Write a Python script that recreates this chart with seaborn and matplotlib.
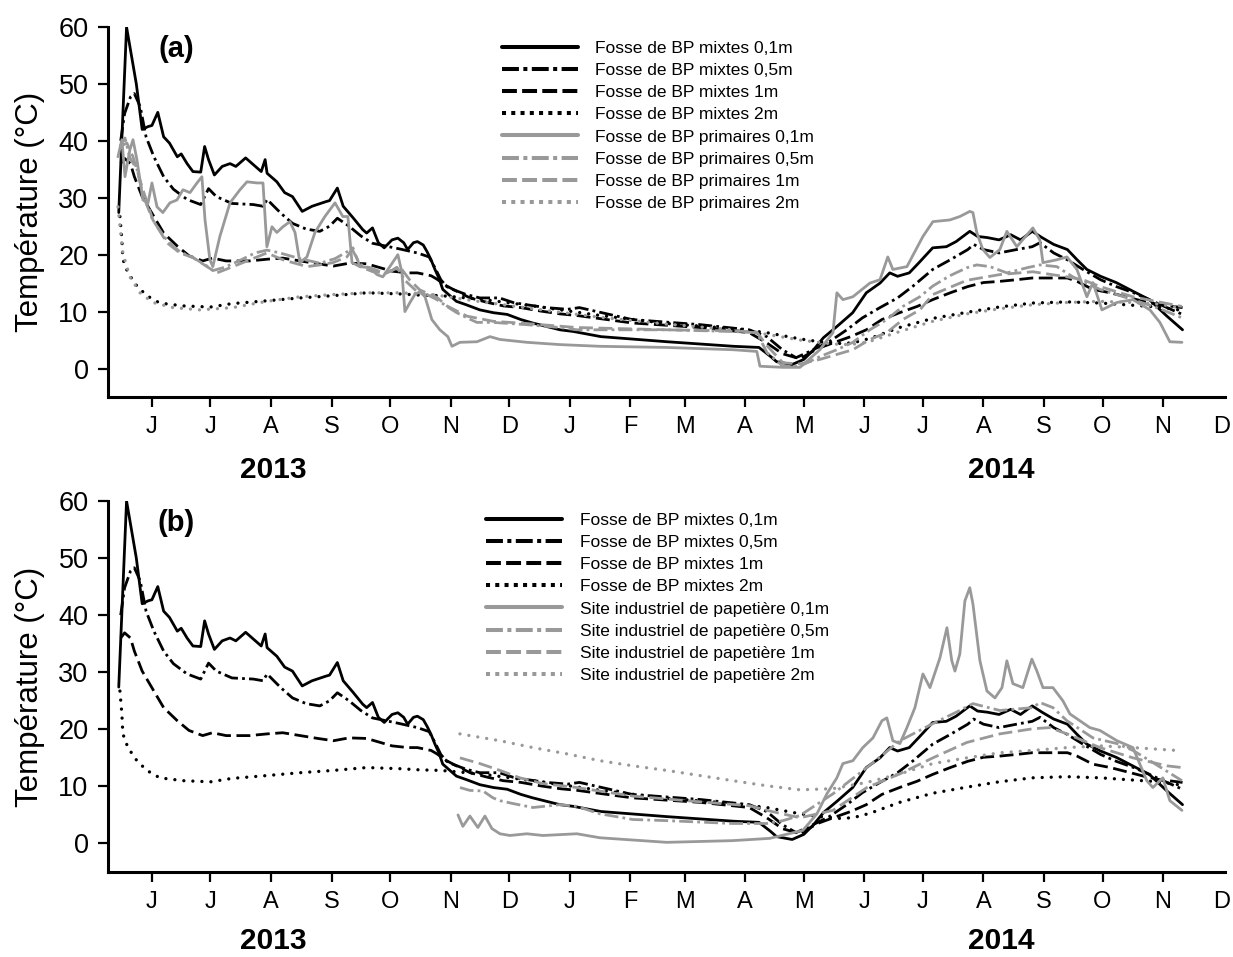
import matplotlib

matplotlib.use("Agg")
import matplotlib.dates as mdates
import matplotlib.pyplot as plt
import pandas as pd
import seaborn as sns
from matplotlib.lines import Line2D

# days counted from 2013-06-01, temperatures in °C
jours_mixtes_01 = [-17, -13, -8, -5, -2, 0, 3, 6, 9, 13, 15, 18, 21, 25, 27, 29, 32, 36, 40, 43,
                   48, 52, 56, 58, 59, 64, 68, 72, 77, 82, 89, 91, 95, 98, 103, 108, 110, 113, 116, 119,
                   123, 126, 129, 131, 134, 136, 139, 141, 143, 145, 147, 149, 153, 156, 161, 168, 175, 182, 189, 195,
                   202, 209, 216, 230, 264, 298, 311, 317, 320, 328, 334, 339, 344, 351, 359, 366, 373, 378, 382, 388,
                   393, 400, 407, 412, 419, 423, 428, 434, 440, 445, 451, 456, 462, 469, 474, 479, 486, 494, 503, 511,
                   520, 528]
temp_mixtes_01 = [27.4, 60, 50, 42, 42.5, 42.7, 45, 40.7, 39.6, 37.2, 37.7, 36, 34.6, 34.5, 39, 36.7, 34, 35.5, 36, 35.5,
                  37, 35.8, 34.6, 36.7, 34.3, 32.8, 30.9, 30.2, 27.6, 28.5, 29.3, 29.5, 31.7, 28.5, 26.5, 24.4, 23.8, 24.7, 22.1, 21.2,
                  22.6, 22.9, 22.1, 20.9, 22.1, 22.3, 21.7, 20.5, 19.1, 17.4, 15.9, 13.9, 12.7, 11.8, 11.2, 10.3, 9.8, 9.5, 8.6, 8.0,
                  7.4, 6.8, 6.5, 5.6, 4.7, 3.9, 3.7, 2.1, 1.2, 0.7, 1.6, 3.3, 5.4, 7.4, 9.8, 13.3, 15, 16.8, 16.2, 16.8,
                  18.6, 21.2, 21.4, 22.3, 24.1, 23.2, 23.0, 22.6, 23.5, 22.6, 24.1, 23.0, 21.8, 20.9, 19.1, 17.4, 16.2, 15.1, 13.5, 12.1,
                  9.2, 6.8]

jours_mixtes_05 = [-16, -14, -11, -9, -6, -3, 1, 6, 11, 18, 25, 29, 33, 41, 52, 57, 59, 66, 72, 79,
                   86, 91, 95, 101, 107, 113, 120, 127, 136, 142, 145, 148, 151, 154, 161, 168, 178, 185, 192, 202,
                   213, 219, 246, 281, 306, 315, 323, 330, 337, 347, 356, 364, 373, 382, 390, 400, 409, 418, 421, 426,
                   434, 443, 451, 455, 462, 469, 477, 486, 494, 503, 511, 520, 528]
temp_mixtes_05 = [40, 44.8, 47.7, 48.3, 46, 40.7, 37.2, 33.7, 31.5, 29.7, 28.8, 31.6, 30.2, 29, 28.8, 28.5, 29.7, 27.3, 25.5, 24.5,
                  24.1, 25, 26.4, 25, 23.3, 22, 21.5, 21, 20.3, 19.6, 17.7, 15.6, 14.4, 13.9, 13, 12.4, 12.4, 11.6, 11.2, 10.7,
                  10.4, 10.7, 8.6, 7.7, 6.8, 5.6, 3.3, 1.9, 3.0, 4.7, 6.8, 8.9, 10.7, 12.4, 14.5, 17.4, 19.1, 20.9, 21.8, 20.9,
                  20.3, 20.9, 21.4, 22.1, 20.3, 19.1, 17.4, 15.6, 14.4, 13.3, 12.1, 10.7, 9.5]

jours_mixtes_1 = [-16, -14, -11, -9, -5, 1, 6, 13, 19, 26, 31, 38, 50, 59, 67, 76, 85, 93, 101, 110,
                  117, 123, 131, 136, 143, 146, 151, 156, 163, 172, 180, 189, 199, 209, 218, 246, 281, 306, 315, 323,
                  332, 341, 349, 358, 366, 374, 383, 392, 400, 409, 418, 426, 434, 443, 451, 460, 469, 474, 482, 491,
                  499, 508, 516, 528]
temp_mixtes_1 = [36, 36.9, 36, 33.7, 30.2, 26.7, 23.8, 21.5, 19.8, 18.9, 19.4, 18.9, 18.9, 19.2, 19.4, 18.9, 18.4, 18, 18.5, 18.4,
                 17.7, 17.1, 16.8, 16.8, 16.3, 15.7, 14.5, 13.6, 12.4, 11.6, 11, 10.7, 10.1, 9.6, 9.3, 8, 7.2, 6.3, 4.5, 2.6,
                 1.7, 3.5, 4.5, 5.6, 6.8, 8.6, 9.8, 10.9, 12.1, 13.3, 14.4, 15.1, 15.3, 15.6, 15.9, 15.9, 15.9, 15.3, 13.9, 13.3,
                 12.6, 11.8, 11.2, 10.7]

jours_mixtes_2 = [-16.4, -15.4, -14.9, -12.3, -7.7, -2.6, 4, 16, 30, 41, 59, 76, 93, 110, 127, 137, 148, 168, 195, 230,
                  264, 298, 315, 332, 342, 352, 359, 368, 383, 400, 418, 434, 451, 469, 486, 503, 516, 528]
temp_mixtes_2 = [26.7, 22.7, 19.2, 16.8, 14.5, 12.8, 11.5, 11, 10.8, 11.4, 11.9, 12.4, 12.8, 13.3, 13.1, 12.9, 12.8, 12.2, 11, 9.3,
                 7.9, 7, 6.3, 5.2, 4.7, 4.4, 4.5, 5.3, 7.2, 8.8, 9.9, 10.8, 11.5, 11.7, 11.5, 11.1, 10.8, 10.2]

jours_prim_01 = [-17.4, -15.4, -13.8, -11.3, -9.7, -7.7, -4.6, -2, 0, 2.6, 5.6, 9.2, 12.8, 15.9, 19.5, 23.1, 25.6, 27.2, 29.7, 31.2,
                 34.8, 40, 45.1, 48.7, 53.8, 56.9, 58.9, 61.5, 64, 67.1, 70.7, 73.3, 75.8, 79.4, 83.5, 88.6, 93.8, 97.8, 100.4, 102.5,
                 106.6, 111.7, 115.3, 118.3, 121.9, 126, 128.1, 129.6, 132.2, 134.7, 137.3, 139.9, 141.4, 143.4, 147.5, 151.6, 153.7, 157.8, 166.5, 173.2,
                 178.3, 192.1, 209, 229.5, 263.8, 297.6, 309.9, 311.5, 323.3, 332, 342.2, 348.9, 350.9, 354, 359.1, 367.8, 373, 377, 379.6, 386.8,
                 395, 400.1, 408.8, 413.9, 419, 420.6, 422.6, 425.7, 429.3, 434.4, 438, 443.1, 451.3, 454.9, 456.5, 463.6, 468.8, 473.9, 479, 482.1,
                 486.7, 494.4, 502.6, 511.3, 516.4, 521.5, 527.7]
temp_prim_01 = [37.2, 40.2, 33.7, 38.4, 40.2, 36.7, 29.6, 29.1, 32.6, 28.4, 27.4, 29.1, 29.6, 31.4, 30.9, 32.6, 33.7, 26.1, 19.1, 17.9,
                23.2, 29.1, 31.4, 32.8, 32.6, 32.6, 21.4, 24.9, 23.9, 24.9, 25.8, 23.9, 18.6, 19.6, 23.9, 26.7, 29.1, 26.7, 26.7, 18.6,
                17.9, 17.7, 16.5, 16.1, 17.9, 20, 16.8, 10, 11.6, 13, 13.5, 12.6, 10.9, 8.6, 6.8, 5.6, 3.9, 4.6, 4.7, 5.6,
                5.1, 4.6, 4.2, 3.9, 3.7, 3.3, 3.0, 0.4, 0.2, 0.2, 3.3, 6.3, 13.3, 12.1, 12.6, 15, 15.6, 19.6, 17.4, 17.9,
                23.2, 25.8, 26.1, 26.7, 27.6, 27.4, 23.9, 20.9, 19.5, 20.9, 24.1, 21.4, 24.7, 22.6, 18.6, 19.1, 19.6, 17.4, 12.6, 15.1,
                10.3, 11.6, 12.1, 10.3, 8.1, 4.7, 4.6]

jours_prim_05 = [-16.4, -13.8, -11.3, -7.7, -4.6, 0.5, 7.7, 14.3, 21, 28.2, 31.2, 37.4, 45.1, 52.8, 58.9, 65.6, 75.8, 86.1, 93.8, 99.9,
                 102.5, 106.6, 113.2, 120.4, 125.5, 129.6, 135.8, 140.9, 146, 151.1, 156.2, 161.4, 166.5, 174.7, 192.1, 209, 217.7, 229.5, 263.8, 297.6,
                 309.9, 315.1, 323.3, 332, 342.2, 350.9, 359.1, 367.8, 376.5, 384.7, 393.4, 400.1, 408.8, 417.5, 422.6, 429.3, 438, 448.3, 454.9, 463.6,
                 471.8, 485.7, 502.6, 516.4, 527.7]
temp_prim_05 = [39, 40.5, 37, 35, 30.5, 26, 22.5, 20.5, 19.5, 18, 17.2, 17.8, 19, 20.3, 20.8, 20.3, 19.3, 18.5, 19.3, 20.5,
                21, 18.3, 17.5, 16.6, 17.8, 15.5, 13.5, 13, 12.1, 10.9, 9.8, 8.9, 8.1, 8.1, 7.7, 7.2, 6.8, 6.8, 6.8, 6.5,
                6.3, 2.8, 0.4, 0.4, 2.1, 3.3, 4.6, 6.8, 8.6, 10.9, 12.6, 14.5, 16.3, 17.7, 18.2, 17.9, 16.8, 17.7, 18.2, 17.9,
                16.1, 13.9, 12.1, 10.5, 8.9]

jours_prim_1 = [-16.4, -12.8, -9.7, -4.6, 0.5, 7.7, 14.3, 21, 28.2, 33.3, 41.5, 50.2, 58.9, 67.1, 72.2, 79.4, 86.1, 92.7, 99.9, 103,
                106.6, 113.2, 120.4, 127, 132.2, 137.3, 146, 151.1, 161.4, 174.7, 192.1, 217.7, 263.8, 297.6, 309.9, 315.1, 323.3, 332, 342.2, 359.1,
                367.8, 376.5, 384.7, 393.4, 400.1, 417.5, 434.4, 451.3, 468.8, 477, 485.7, 502.6, 527.7]
temp_prim_1 = [39, 39.6, 37.2, 31.4, 26.1, 22.1, 20.3, 19.5, 17.9, 16.8, 17.9, 19.1, 20.3, 19.1, 18.6, 17.9, 18.2, 18.6, 19.6, 21.2,
               17.9, 17, 16.8, 17.9, 15.5, 13.8, 12.5, 11, 9.2, 8.3, 7.9, 7.2, 6.8, 6.6, 6.4, 4, 1.0, 0.8, 1.6, 3.3,
               5.1, 6.3, 8.6, 10.3, 13, 15.5, 16.5, 17, 16.1, 15.6, 14.4, 12.6, 10.9]

jours_prim_2 = [-17.4, -14.9, -11.3, -6.1, 0.5, 10.8, 24.6, 41.5, 58.9, 75.8, 92.7, 110.1, 127, 144, 162.9, 195.2, 229.5, 263.8, 297.6, 315.1,
                332, 348.9, 357.6, 366.3, 383.2, 400.1, 417.5, 434.4, 451.3, 468.8, 485.7, 502.6, 516.4, 527.7]
temp_prim_2 = [28.4, 20.3, 16.1, 13.3, 11.6, 10.7, 10.3, 10.7, 11.8, 12.6, 13, 13.3, 13.3, 13.0, 12, 10.5, 9, 7.8, 6.8, 6,
               5, 4.3, 4.2, 4.6, 6.5, 8.3, 9.6, 10.5, 11.2, 11.6, 11.8, 11.6, 11.3, 10.6]

jours_pap_01 = [156.8, 159.3, 162.9, 167, 170.6, 174.2, 178.3, 183.4, 192.1, 200.3, 217.7, 229.5, 263.8, 297.6, 316.6, 333.5, 340.7, 345.8, 350.9, 354,
                359.1, 364.2, 369.4, 374, 376.5, 379.6, 383.2, 386.8, 390.9, 395, 398.6, 403.7, 407.3, 409.8, 411.4, 413.9, 416.5, 419, 420.6, 424.2,
                427.8, 431.9, 435.5, 438, 441.1, 446.2, 450.8, 453.4, 456.5, 461.6, 466.7, 470.3, 475.4, 480.5, 485.7, 494.4, 502.6, 509.7, 512.8, 517.9,
                521.5, 527.7]
temp_pap_01 = [5, 3, 4.8, 2.8, 4.8, 2.6, 1.7, 1.4, 1.7, 1.4, 1.7, 1.0, 0.2, 0.5, 0.9, 2.3, 5.2, 8.7, 11.5, 14,
               14.5, 16.8, 18.5, 21.5, 22, 18, 17.5, 20.3, 23.8, 29.7, 27.3, 32.5, 37.8, 32, 30.2, 33.2, 42.5, 44.8, 42, 32,
               26.7, 25.5, 27.3, 32, 28, 27.3, 32.3, 30.2, 27.3, 27.3, 25, 22.7, 21.5, 20.3, 19.8, 18, 16.8, 11, 9.8, 11.5,
               7.5, 5.8]

jours_pap_05 = [157.8, 162.9, 169.6, 174.7, 178.3, 184.9, 195.2, 209, 217.7, 229.5, 246.4, 263.8, 297.6, 315.1, 323.3, 332, 348.9, 366.3, 383.2, 400.1,
                413.9, 420.6, 434.4, 451.3, 454.9, 461.6, 468.8, 482.1, 494.4, 502.6, 511.3, 527.7]
temp_pap_05 = [9.8, 9.3, 9.2, 8, 7.5, 7, 6.3, 6.8, 6.5, 5.2, 4.2, 4, 3.5, 3.5, 4, 4.9, 8.7, 13.3, 18, 21,
               23.3, 24.5, 23.3, 23.8, 24.7, 23.8, 21.5, 18.5, 17.5, 16.3, 14.5, 11]

jours_pap_1 = [157.8, 168, 178.3, 188.5, 200.3, 217.7, 246.4, 280.7, 306.4, 315.1, 332, 348.9, 366.3, 383.2, 400.1, 417.5, 434.4, 451.3, 460, 468.8,
               485.7, 502.6, 520, 527.7]
temp_pap_1 = [15, 14, 12.8, 11.5, 10.5, 9.8, 8.3, 7.3, 6.6, 5.8, 4.5, 5.8, 9.8, 12.2, 15, 17.7, 19.2, 20.1, 20.3, 19.2,
              16.8, 15, 13.6, 13.3]

jours_pap_2 = [157.8, 178.3, 195.2, 212.6, 229.5, 246.4, 263.8, 280.7, 297.6, 315.1, 332, 348.9, 366.3, 383.2, 400.1, 417.5, 434.4, 451.3, 468.8, 485.7,
               502.6, 525.1]
temp_pap_2 = [19.2, 18, 16.8, 15.7, 14.5, 13.6, 12.8, 11.9, 11, 10.1, 9.4, 9.6, 10.7, 12.2, 14, 15, 15.9, 16.3, 16.8, 17.1,
              16.8, 16.3]

mois_labels = ["J", "J", "A", "S", "O", "N", "D", "J", "F", "M", "A", "M", "J", "J", "A", "S", "O", "N", "D"]
annees = ["2013", "2014"]
profondeurs = ["0,1m", "0,5m", "1m", "2m"]

NOIR = "#000000"
GRIS = "#999999"
# line pattern per depth: (plot dashes, legend dashes)
MOTIFS = {
    "0,1m": ("solid", "solid"),
    "0,5m": ((0, (5, 1.5, 1, 1.5)), (0, (4.2, 1.1, 1, 1.1))),
    "1m": ((0, (5, 2)), (0, (3.7, 1.3))),
    "2m": ((0, (0.01, 2.7)), (0, (1, 1.3))),
}

depart = pd.Timestamp("2013-06-01")

sns.set_style("ticks")
plt.rcParams["font.family"] = ["Liberation Sans", "DejaVu Sans"]
plt.rcParams.update({
    "text.color": "black", "axes.labelcolor": "black", "axes.edgecolor": "black",
    "xtick.color": "black", "ytick.color": "black",
})

fig = plt.figure(figsize=(12.33, 9.57), dpi=100)
ax_a = fig.add_axes([0.0876, 0.5852, 0.9059, 0.3866])
ax_b = fig.add_axes([0.0876, 0.0888, 0.9059, 0.3877])

mixtes = [
    (jours_mixtes_01, temp_mixtes_01),
    (jours_mixtes_05, temp_mixtes_05),
    (jours_mixtes_1, temp_mixtes_1),
    (jours_mixtes_2, temp_mixtes_2),
]
primaires = [
    (jours_prim_01, temp_prim_01),
    (jours_prim_05, temp_prim_05),
    (jours_prim_1, temp_prim_1),
    (jours_prim_2, temp_prim_2),
]
papetiere = [
    (jours_pap_01, temp_pap_01),
    (jours_pap_05, temp_pap_05),
    (jours_pap_1, temp_pap_1),
    (jours_pap_2, temp_pap_2),
]

panneaux = [
    (ax_a, "(a)", primaires, "Fosse de BP primaires", (501.7, 41), 52.5),
    (ax_b, "(b)", papetiere, "Site industriel de papetière", (486, 513), 49.7),
]


def trace(ax, jours, temp, couleur, prof):
    df = pd.DataFrame({"date": depart + pd.to_timedelta(jours, unit="D"), "temp": temp})
    pointille = prof == "2m"
    sns.lineplot(
        data=df, x="date", y="temp", ax=ax, color=couleur,
        linestyle=MOTIFS[prof][0], linewidth=2.4 if pointille else 2.0,
        dash_capstyle="round" if pointille else "butt",
        sort=False, estimator=None,
    )


mois_dates = pd.date_range("2013-06-01", "2014-12-01", freq="MS")

for ax, lettre, gris_series, nom_gris, coin, decal in panneaux:
    handles = []
    labels = []
    for (jours, temp), prof in zip(mixtes, profondeurs):
        trace(ax, jours, temp, NOIR, prof)
        handles.append(Line2D([], [], color=NOIR, lw=2.9, linestyle=MOTIFS[prof][1]))
        labels.append(f"Fosse de BP mixtes {prof}")
    for (jours, temp), prof in zip(gris_series, profondeurs):
        trace(ax, jours, temp, GRIS, prof)
        handles.append(Line2D([], [], color=GRIS, lw=2.9, linestyle=MOTIFS[prof][1]))
        labels.append(f"{nom_gris} {prof}")

    ax.set_ylim(-5, 60)
    ax.set_yticks(range(0, 61, 10))
    ax.set_xlim(pd.Timestamp("2013-05-09 12:00"), pd.Timestamp("2014-12-02 18:00"))
    ax.set_xticks(mois_dates)
    ax.set_xticklabels(mois_labels)
    ax.xaxis.get_major_ticks()[-1].tick1line.set_visible(False)

    sns.despine(ax=ax)
    for side in ["left", "bottom"]:
        ax.spines[side].set_linewidth(2.2)
    ax.tick_params(axis="both", direction="out", length=7, width=1.6)
    ax.tick_params(axis="y", labelsize=19.5, pad=7)
    ax.tick_params(axis="x", labelsize=17, pad=7)

    ax.set_xlabel("")
    ax.set_ylabel("Température (°C)", fontsize=22.5)
    ax.yaxis.set_label_coords(-0.056, 0.5)

    ax.text(0.061, 0.94, lettre, transform=ax.transAxes, fontsize=21,
            fontweight="bold", ha="center", va="center")

    for annee, centre in zip(annees, ["2013-08-02", "2014-08-10"]):
        ax.annotate(annee, xy=(mdates.date2num(pd.Timestamp(centre)), 0),
                    xycoords=("data", "axes fraction"), xytext=(0, -decal),
                    textcoords="offset points", ha="center", va="center",
                    fontsize=21.5, fontweight="bold")

    ax.legend(handles, labels, loc="upper left",
              bbox_to_anchor=(coin[0] / 1233, 1 - coin[1] / 957),
              bbox_transform=fig.transFigure, frameon=False, fontsize=12.5,
              handlelength=4.4, handletextpad=1.0, labelspacing=0.40,
              borderpad=0, borderaxespad=0)

fig.savefig("out.png", dpi=100)
